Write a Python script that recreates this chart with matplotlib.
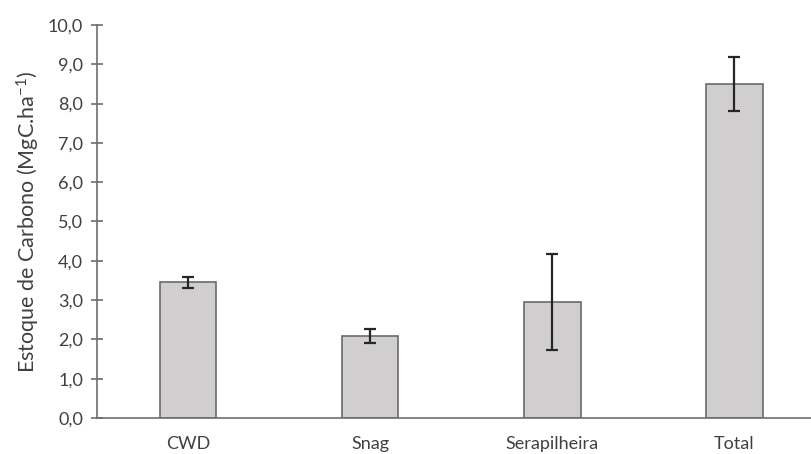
import matplotlib
matplotlib.use("Agg")
import matplotlib.pyplot as plt

# Estoque de carbono por compartimento (MgC/ha)
categorias = ['CWD', 'Snag', 'Serapilheira', 'Total']
estoque = [3.45, 2.09, 2.95, 8.50]
erro = [0.14, 0.18, 1.22, 0.68]
yticks = [0, 1, 2, 3, 4, 5, 6, 7, 8, 9, 10]

plt.rcParams['font.family'] = ['Lato', 'DejaVu Sans']
plt.rcParams['mathtext.default'] = 'regular'

texto = '#404040'
eixo = '#6e6e6e'

fig = plt.figure(figsize=(8.11, 4.54), dpi=100)
ax = fig.add_axes([0.1196, 0.0793, 0.8804, 0.8657])

x = range(len(categorias))
ax.bar(x, estoque, width=0.31, color='#d0cecf', edgecolor='#6a6a6a', linewidth=1.2,
       yerr=erro, capsize=4, error_kw={'ecolor': '#262626', 'elinewidth': 1.6, 'capthick': 1.6},
       zorder=2)

ax.set_xlim(-0.5, 3.42)
ax.set_ylim(0, 10)
ax.set_yticks(yticks)
ax.yaxis.set_major_formatter(matplotlib.ticker.FuncFormatter(lambda v, p: ('%.1f' % v).replace('.', ',')))
ax.set_xticks(list(x))
ax.set_xticklabels(categorias)

ax.tick_params(axis='x', length=0, pad=13, labelsize=13, labelcolor=texto)
ax.tick_params(axis='y', direction='inout', length=8, width=1.2, color=eixo, pad=6,
               labelsize=13, labelcolor=texto)

for s in ['top', 'right']:
    ax.spines[s].set_visible(False)
for s in ['left', 'bottom']:
    ax.spines[s].set_color(eixo)
    ax.spines[s].set_linewidth(1.2)

ax.set_ylabel('Estoque de Carbono (MgC.ha$^{-1}$)', fontsize=15.5, color=texto, labelpad=4)

plt.savefig('out.png', dpi=100)
